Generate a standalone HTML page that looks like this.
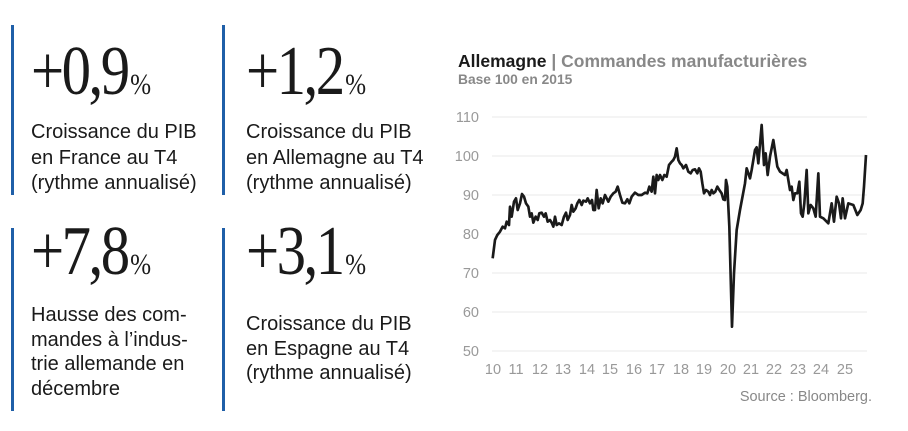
<!DOCTYPE html>
<html><head><meta charset="utf-8"><style>
body{margin:0;width:908px;height:431px;background:#fff;position:relative;overflow:hidden;font-family:"Liberation Sans",sans-serif}
.bar{position:absolute;width:3px;background:#1f5fa8}
.big{position:absolute;font-family:"Liberation Serif",serif;font-size:70px;letter-spacing:-3px;color:#1a1a1a;line-height:1;white-space:nowrap;transform:scaleX(0.84);transform-origin:0 0}
.big span{font-size:30px;letter-spacing:0;margin-left:3px}
.txt{position:absolute;font-size:20px;line-height:25.5px;color:#1a1a1a;white-space:nowrap}
</style></head><body>
<div class="bar" style="left:11px;top:25px;height:170px"></div>
<div class="bar" style="left:222px;top:25px;height:170px"></div>
<div class="bar" style="left:11px;top:228px;height:183px"></div>
<div class="bar" style="left:222px;top:228px;height:183px"></div>
<div class="big" style="left:31px;top:37px">+0,9<span>%</span></div>
<div class="big" style="left:246px;top:37px">+1,2<span>%</span></div>
<div class="big" style="left:31px;top:217px">+7,8<span>%</span></div>
<div class="big" style="left:246px;top:217px">+3,1<span>%</span></div>
<div class="txt" style="left:31px;top:120px">Croissance du PIB<br>en France au T4<br>(rythme annualisé)</div>
<div class="txt" style="left:246px;top:120px">Croissance du PIB<br>en Allemagne au T4<br>(rythme annualisé)</div>
<div class="txt" style="left:31px;top:303px;line-height:24.5px">Hausse des com-<br>mandes à l’indus-<br>trie allemande en<br>décembre</div>
<div class="txt" style="left:246px;top:312px;line-height:24.5px">Croissance du PIB<br>en Espagne au T4<br>(rythme annualisé)</div>
<svg width="908" height="431" style="position:absolute;left:0;top:0">
<text x="458" y="67" font-size="17.5" font-weight="bold" fill="#1a1a1a">Allemagne <tspan fill="#888">| Commandes manufacturières</tspan></text>
<text x="458" y="84" font-size="13.8" font-weight="bold" fill="#888">Base 100 en 2015</text>
<g stroke="#eaeaea" stroke-width="1">
<line x1="492" x2="867" y1="117" y2="117"/><line x1="492" x2="867" y1="156" y2="156"/><line x1="492" x2="867" y1="195" y2="195"/><line x1="492" x2="867" y1="234" y2="234"/><line x1="492" x2="867" y1="273" y2="273"/><line x1="492" x2="867" y1="312" y2="312"/><line x1="492" x2="867" y1="351" y2="351"/>
</g>
<g font-size="14.5" fill="#999" text-anchor="end">
<text x="479" y="122">110</text><text x="479" y="161">100</text><text x="479" y="200">90</text><text x="479" y="239">80</text><text x="479" y="278">70</text><text x="479" y="317">60</text><text x="479" y="356">50</text>
</g>
<g font-size="14.5" fill="#999" text-anchor="middle">
<text x="493" y="374">10</text><text x="516" y="374">11</text><text x="540" y="374">12</text><text x="563" y="374">13</text><text x="587" y="374">14</text><text x="610" y="374">15</text><text x="634" y="374">16</text><text x="657" y="374">17</text><text x="681" y="374">18</text><text x="704" y="374">19</text><text x="728" y="374">20</text><text x="751" y="374">21</text><text x="774" y="374">22</text><text x="798" y="374">23</text><text x="821" y="374">24</text><text x="845" y="374">25</text>
</g>
<text x="872" y="401" font-size="14.5" fill="#888" text-anchor="end">Source : Bloomberg.</text>
<g transform="translate(440,40) scale(0.33333)">
<polyline fill="none" stroke="#1a1a1a" stroke-width="8" stroke-linejoin="round" points="158,655 165,600 172,585 180,575 188,560 195,565 200,545 207,555 210,500 215,530 222,485 228,475 233,510 240,490 246,462 252,470 258,490 265,500 270,530 275,520 280,548 287,530 293,540 298,520 305,518 312,530 317,520 323,545 330,540 336,550 340,560 345,530 350,555 357,550 365,555 372,530 378,518 383,540 390,525 395,495 400,515 407,505 412,490 418,480 425,495 430,482 438,485 443,475 450,490 456,480 460,510 465,510 470,450 476,505 482,475 488,490 495,465 500,475 505,485 512,470 520,460 527,455 533,440 540,465 547,488 555,490 562,478 568,490 575,470 585,458 595,465 605,465 615,458 622,460 628,440 635,455 640,410 645,460 650,405 655,420 660,405 667,420 673,405 680,410 687,375 695,365 700,360 705,350 710,325 715,360 720,370 725,375 730,385 738,375 745,395 752,400 758,390 765,388 772,400 777,385 782,395 787,430 792,460 798,450 805,455 810,465 815,450 820,460 826,455 832,440 838,450 845,460 850,478 855,480 858,420 862,440 868,560 876,860 882,700 890,570 900,510 915,430 920,385 930,415 935,390 945,330 950,322 955,370 965,255 972,375 977,340 983,405 990,350 1000,300 1012,380 1020,395 1035,405 1040,390 1050,450 1055,440 1060,480 1065,460 1072,460 1078,425 1083,520 1088,530 1093,490 1100,390 1105,520 1112,495 1120,505 1127,530 1135,400 1140,530 1150,535 1165,550 1175,490 1182,545 1190,470 1197,490 1203,535 1208,475 1215,535 1225,490 1240,495 1252,525 1262,510 1268,490 1272,440 1278,345"/>
</g>
</svg>
</body></html>
